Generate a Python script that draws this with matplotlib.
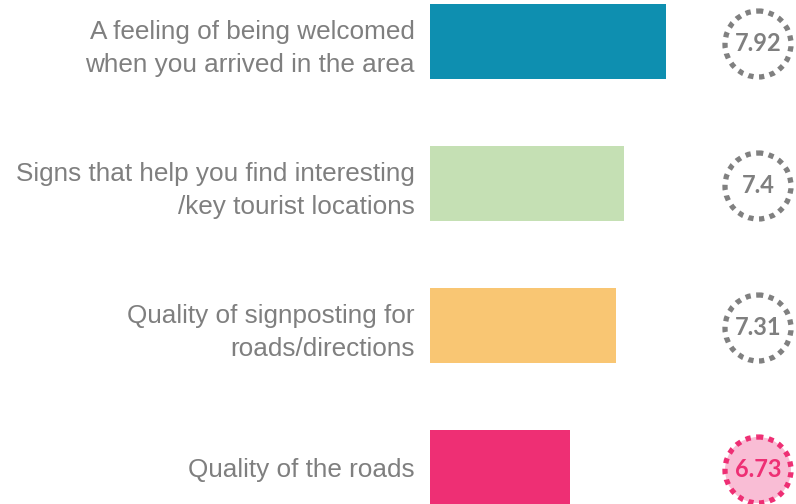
import matplotlib
matplotlib.use("Agg")
import matplotlib.pyplot as plt
from matplotlib.patches import Ellipse

categories = [
    "A feeling of being welcomed\nwhen you arrived in the area",
    "Signs that help you find interesting\n/key tourist locations",
    "Quality of signposting for\nroads/directions",
    "Quality of the roads",
]
values = [7.92, 7.4, 7.31, 6.73]
score_labels = ["7.92", "7.4", "7.31", "6.73"]
bar_colors = ["#0e8fb0", "#c5e0b4", "#f9c673", "#ee2f74"]
circle_edge = ["#808080", "#808080", "#808080", "#ee2f74"]
circle_face = ["none", "none", "none", "#f9bdd5"]
text_colors = ["#7f7f7f", "#7f7f7f", "#7f7f7f", "#ee2f74"]

plt.rcParams["font.family"] = ["Liberation Sans", "DejaVu Sans"]

W, H = 796, 504
fig = plt.figure(figsize=(W / 100, H / 100), dpi=100)
ax_left_px = 430
ax = fig.add_axes([ax_left_px / W, 0, (W - ax_left_px) / W, 1])

base = 5.0
px_per_x = 80.7
px_per_y = 142.0
xmax = base + (W - ax_left_px) / px_per_x
ytop = -41.5 / px_per_y
ybot = ytop + H / px_per_y

ypos = list(range(len(categories)))
ax.barh(ypos, [v - base for v in values], left=base, height=0.53, color=bar_colors)
ax.set_xlim(base, xmax)
ax.set_ylim(ybot, ytop)

ax.set_yticks(ypos)
ax.set_yticklabels(categories, fontsize=18.8, color="#7f7f7f", linespacing=1.45)
ax.tick_params(axis="y", length=0, pad=11)
ax.tick_params(axis="x", bottom=False, labelbottom=False)
for s in ax.spines.values():
    s.set_visible(False)

cx = base + (758 - ax_left_px) / px_per_x
rad_px = 33
for i, y in enumerate(ypos):
    yc = y + 2.5 / px_per_y
    e = Ellipse((cx, yc), 2 * rad_px / px_per_x, 2 * rad_px / px_per_y,
                facecolor=circle_face[i], edgecolor=circle_edge[i],
                linewidth=3.8, linestyle=(0, (1.0, 1.05)), clip_on=False)
    ax.add_patch(e)
    ax.text(cx, yc, score_labels[i], ha="center", va="center", fontsize=17,
            fontweight="bold", color=text_colors[i], family="Lato", clip_on=False)

fig.savefig("out.png", dpi=100)
